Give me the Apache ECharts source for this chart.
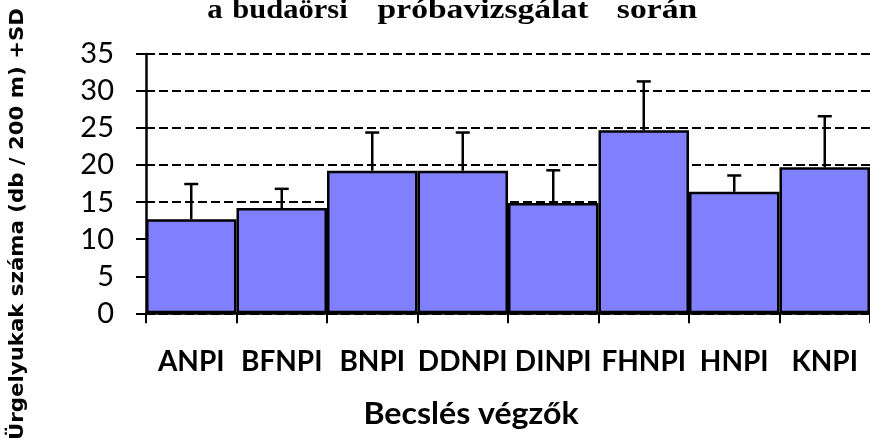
<!DOCTYPE html>
<html>
<head>
<meta charset="utf-8">
<script src="https://cdn.jsdelivr.net/npm/echarts@6/dist/echarts.min.js"></script>
<style>
  html, body { margin: 0; padding: 0; background: #fff; }
  #main { width: 870px; height: 441px; }
</style>
</head>
<body>
<div id="main"></div>
<script>
// Becslés végzők (categories)
const categories = ['ANPI', 'BFNPI', 'BNPI', 'DDNPI', 'DINPI', 'FHNPI', 'HNPI', 'KNPI'];
// átlag (mean) and +SD
const means = [12.7, 14.2, 19.25, 19.25, 14.9, 24.7, 16.4, 19.7];
const sds = [4.75, 2.6, 5.15, 5.15, 4.4, 6.6, 2.2, 6.9];
const yTicks = [0, 5, 10, 15, 20, 25, 30, 35];
// title words (the original is letter-spaced, so each word is placed by itself)
const titleWords = ['a', 'budaörsi', 'próbavizsgálat', 'során'];
const titleX = [215, 290, 483, 657];
const titleStretch = [1.1, 1.09, 1.2, 1.2];

const myChart = echarts.init(document.getElementById('main'));

const errData = categories.map(function (c, i) {
  return [i, means[i], means[i] + sds[i]];
});

const titleTexts = titleWords.map(function (w, i) {
  return {
    type: 'text',
    x: titleX[i], y: 11, scaleX: titleStretch[i],
    style: {
      text: w,
      fontFamily: 'Liberation Serif', fontWeight: 'bold', fontSize: 28,
      fill: '#000', align: 'center', verticalAlign: 'middle'
    }
  };
});

const option = {
  animation: false,
  backgroundColor: '#fff',
  grid: { left: 146, top: 54, width: 732, height: 259.3 },
  graphic: titleTexts.concat([
    {
      type: 'text',
      x: 471, y: 414, scaleX: 1.07,
      style: {
        text: 'Becslés végzők',
        fontFamily: 'Lato', fontWeight: 'bold', fontSize: 30,
        fill: '#000', align: 'center', verticalAlign: 'middle'
      }
    },
    {
      type: 'text',
      x: 18, y: 224, rotation: Math.PI / 2, scaleX: 1.12,
      style: {
        text: 'Ürgelyukak száma (db / 200 m) +SD',
        fontFamily: 'DejaVu Sans', fontWeight: 'bold', fontSize: 19,
        fill: '#000', align: 'center', verticalAlign: 'middle'
      }
    }
  ]),
  xAxis: {
    type: 'category',
    data: categories,
    axisLine: { lineStyle: { color: '#000', width: 2.5 } },
    axisTick: { show: true, length: 10, lineStyle: { color: '#000', width: 2 } },
    axisLabel: { color: '#000', fontFamily: 'Lato', fontWeight: 'bold', fontSize: 28, margin: 35, interval: 0 },
    splitLine: { show: false }
  },
  yAxis: {
    type: 'value',
    min: yTicks[0],
    max: yTicks[yTicks.length - 1],
    interval: 5,
    axisLine: { show: true, lineStyle: { color: '#000', width: 2.5 } },
    axisTick: { show: true, length: 10, lineStyle: { color: '#000', width: 2 } },
    axisLabel: { color: '#000', fontFamily: 'Lato', fontSize: 29, margin: 32 },
    splitLine: { show: true, lineStyle: { color: '#000', width: 2, type: [9, 4] } }
  },
  series: [
    {
      type: 'bar',
      data: means,
      barCategoryGap: '0%',
      itemStyle: { color: '#8080ff', borderColor: '#000', borderWidth: 2.5 },
      z: 2
    },
    {
      type: 'custom',
      data: errData,
      z: 3,
      renderItem: function (params, api) {
        const x = api.value(0);
        const base = api.coord([x, api.value(1)]);
        const top = api.coord([x, api.value(2)]);
        const half = 7;
        return {
          type: 'group',
          children: [
            { type: 'line', shape: { x1: base[0], y1: base[1], x2: top[0], y2: top[1] },
              style: { stroke: '#000', lineWidth: 2.5 } },
            { type: 'line', shape: { x1: top[0] - half, y1: top[1], x2: top[0] + half, y2: top[1] },
              style: { stroke: '#000', lineWidth: 2.5 } }
          ]
        };
      }
    }
  ]
};

myChart.setOption(option);
</script>
</body>
</html>
